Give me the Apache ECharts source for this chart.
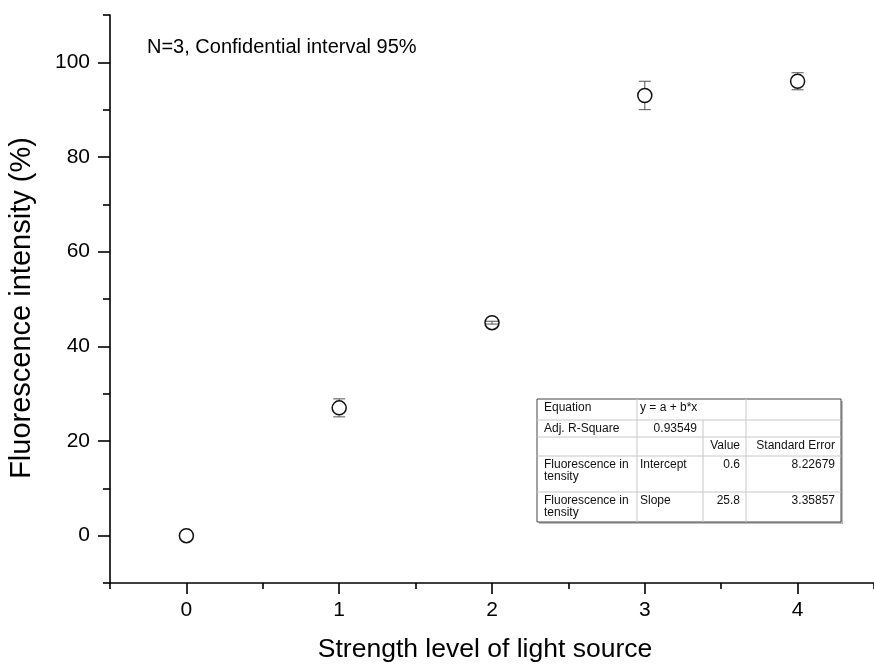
<!DOCTYPE html>
<html>
<head>
<meta charset="utf-8">
<title>Fluorescence intensity vs light source strength</title>
<script src="https://cdn.jsdelivr.net/npm/echarts@6/dist/echarts.min.js"></script>
<style>
  html, body { margin: 0; padding: 0; background: #fff; }
  #chart { width: 874px; height: 668px; }
</style>
</head>
<body>
<div id="chart"></div>
<script>
// Measured points: light source level, mean intensity, 95% CI half-width
const levels = [0, 1, 2, 3, 4];
const intensity = [0, 27, 45, 93, 96];
const ciHalfWidth = [0, 1.9, 0.3, 3.0, 1.8];

const xTickValues = [0, 1, 2, 3, 4];
const xMinorTickValues = [-0.5, 0.5, 1.5, 2.5, 3.5, 4.5];
const yTickValues = [0, 20, 40, 60, 80, 100];
const yMinorTickValues = [-10, 10, 30, 50, 70, 90, 110];

const noteText = 'N=3, Confidential interval 95%';
const xTitle = 'Strength level of light source';
const yTitle = 'Fluorescence intensity (%)';

// Linear fit summary table
const fitTable = [
  ['Equation', 'y = a + b*x', '', ''],
  ['Adj. R-Square', '0.93549', '', ''],
  ['', '', 'Value', 'Standard Error'],
  ['Fluorescence in\ntensity', 'Intercept', '0.6', '8.22679'],
  ['Fluorescence in\ntensity', 'Slope', '25.8', '3.35857']
];

const FONT = '"Liberation Sans", Arial, Helvetica, sans-serif';
const chart = echarts.init(document.getElementById('chart'), null, { renderer: 'canvas' });

const points = levels.map((x, i) => [x, intensity[i], ciHalfWidth[i]]);
const SYMBOL_R = 7.5;
const CAP_HALF = 6;

function renderErrorBar(params, api) {
  const x = api.value(0), y = api.value(1), e = api.value(2);
  if (!e) return null;
  const c = api.coord([x, y]);
  const hi = api.coord([x, y + e]);
  const lo = api.coord([x, y - e]);
  const style = { stroke: '#555', lineWidth: 1 };
  const children = [
    { type: 'line', shape: { x1: hi[0] - CAP_HALF, y1: hi[1], x2: hi[0] + CAP_HALF, y2: hi[1] }, style },
    { type: 'line', shape: { x1: lo[0] - CAP_HALF, y1: lo[1], x2: lo[0] + CAP_HALF, y2: lo[1] }, style }
  ];
  if (c[1] - hi[1] > SYMBOL_R) {
    children.push({ type: 'line', shape: { x1: c[0], y1: hi[1], x2: c[0], y2: c[1] - SYMBOL_R }, style });
    children.push({ type: 'line', shape: { x1: c[0], y1: c[1] + SYMBOL_R, x2: c[0], y2: lo[1] }, style });
  } else {
    children.push({ type: 'line', shape: { x1: c[0], y1: hi[1], x2: c[0], y2: lo[1] }, style });
  }
  return { type: 'group', children };
}

// Build the fit table out of rects and texts
function buildTable() {
  const colX = [537, 637, 703, 746, 841];
  const rowY = [399, 420, 437, 456, 492, 522];
  const els = [];
  els.push({
    type: 'rect',
    shape: { x: colX[0] + 2, y: rowY[0] + 2, width: colX[4] - colX[0], height: rowY[5] - rowY[0] },
    style: { fill: '#bbb' }, z: 10
  });
  els.push({
    type: 'rect',
    shape: { x: colX[0], y: rowY[0], width: colX[4] - colX[0], height: rowY[5] - rowY[0] },
    style: { fill: '#fff', stroke: '#444', lineWidth: 1 }, z: 11
  });
  for (let r = 1; r < rowY.length - 1; r++) {
    els.push({ type: 'line', shape: { x1: colX[0], y1: rowY[r], x2: colX[4], y2: rowY[r] },
      style: { stroke: '#c8c8c8', lineWidth: 1 }, z: 12 });
  }
  for (let c = 1; c < colX.length - 1; c++) {
    const startRow = c === 2 ? 1 : 0;
    els.push({ type: 'line', shape: { x1: colX[c], y1: rowY[startRow], x2: colX[c], y2: rowY[5] },
      style: { stroke: '#c8c8c8', lineWidth: 1 }, z: 12 });
  }

  fitTable.forEach((row, r) => {
    row.forEach((txt, c) => {
      if (!txt) return;
      const numeric = /^[\d.]+$/.test(txt);
      const right = c >= 2 || numeric;
      els.push({
        type: 'text', z: 13,
        style: {
          text: txt,
          x: right ? colX[c + 1] - 6 : colX[c] + (c === 0 ? 7 : 3),
          y: rowY[r] + 3,
          align: right ? 'right' : 'left',
          verticalAlign: 'top',
          fontSize: 12, lineHeight: 12,
          fontFamily: FONT, fill: '#111'
        }
      });
    });
  });
  return els;
}

const axisLineStyle = { color: '#000', width: 1.6 };

const option = {
  animation: false,
  backgroundColor: '#fff',
  textStyle: { fontFamily: FONT, color: '#000' },
  grid: { left: 110, right: -4, top: 15, bottom: 85, containLabel: false },
  xAxis: [
    {
      type: 'value', min: -0.5, max: 4.5, position: 'bottom',
      axisLine: { show: true, onZero: false, lineStyle: axisLineStyle },
      axisTick: { show: true, length: 11, customValues: xTickValues, lineStyle: axisLineStyle },
      axisLabel: { show: true, customValues: xTickValues, fontSize: 21, margin: 17, color: '#000', fontFamily: FONT },
      splitLine: { show: false }
    },
    {
      type: 'value', min: -0.5, max: 4.5, position: 'bottom',
      axisLine: { show: false, onZero: false },
      axisTick: { show: true, length: 6, customValues: xMinorTickValues, lineStyle: axisLineStyle },
      axisLabel: { show: false },
      splitLine: { show: false }
    }
  ],
  yAxis: [
    {
      type: 'value', min: -10, max: 110, position: 'left',
      axisLine: { show: true, onZero: false, lineStyle: axisLineStyle },
      axisTick: { show: true, length: 12, customValues: yTickValues, lineStyle: axisLineStyle },
      axisLabel: { show: true, customValues: yTickValues, fontSize: 21, margin: 20, color: '#000', fontFamily: FONT },
      splitLine: { show: false }
    },
    {
      type: 'value', min: -10, max: 110, position: 'left',
      axisLine: { show: false, onZero: false },
      axisTick: { show: true, length: 7, customValues: yMinorTickValues, lineStyle: axisLineStyle },
      axisLabel: { show: false },
      splitLine: { show: false }
    }
  ],
  series: [
    {
      type: 'custom', name: 'CI', xAxisIndex: 0, yAxisIndex: 0,
      renderItem: renderErrorBar,
      data: points, encode: { x: 0, y: 1 }, z: 3, silent: true
    },
    {
      type: 'scatter', name: 'Intensity', xAxisIndex: 0, yAxisIndex: 0,
      data: points.map(p => [p[0], p[1]]),
      symbol: 'circle', symbolSize: 14,
      itemStyle: { color: 'rgba(0,0,0,0)', borderColor: '#111', borderWidth: 1.5, opacity: 1 },
      z: 4
    }
  ],
  graphic: [
    {
      type: 'text', x: 147, y: 47,
      style: { text: noteText, fontSize: 20, fontFamily: FONT, fill: '#000', verticalAlign: 'middle' }
    },
    {
      type: 'text', x: 485, y: 650,
      style: { text: xTitle, fontSize: 26.5, fontFamily: FONT, fill: '#000', align: 'center', verticalAlign: 'middle' }
    },
    {
      type: 'text', x: 22, y: 308, rotation: Math.PI / 2,
      style: { text: yTitle, fontSize: 29, fontFamily: FONT, fill: '#000', align: 'center', verticalAlign: 'middle' }
    },
    { type: 'group', children: buildTable() }
  ]
};

chart.setOption(option);
</script>
</body>
</html>
